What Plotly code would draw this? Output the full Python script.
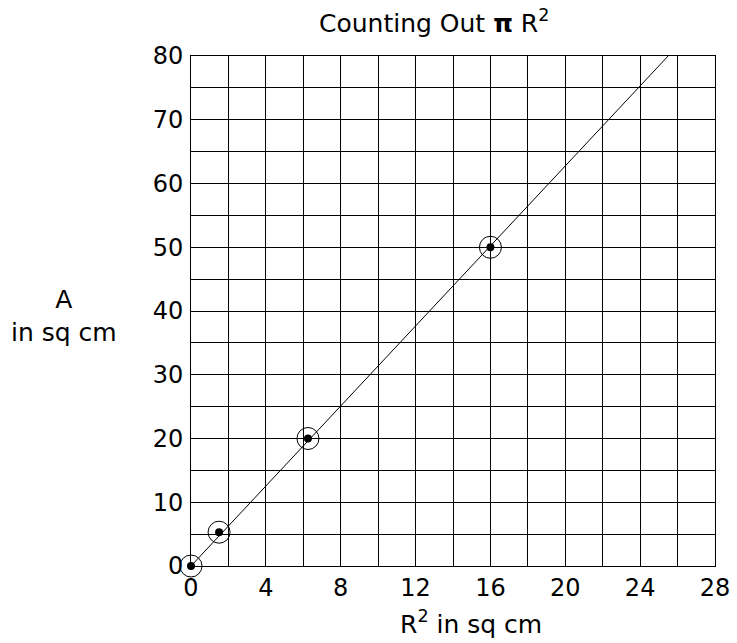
import numpy as np
import plotly.graph_objects as go

# Data
r_sq = [0, 1.5, 6.25, 16]      # R^2 in sq cm
area = [0, 5.3, 20, 50]        # A in sq cm
x_ticks = [0, 4, 8, 12, 16, 20, 24, 28]
y_ticks = [0, 10, 20, 30, 40, 50, 60, 70, 80]

# line through origin fitted to the points
rx = np.array(r_sq); ay = np.array(area)
slope = float((rx * ay).sum() / (rx * rx).sum())
line_x = [0, 80 / slope]
line_y = [0, 80]

FONT = "DejaVu Sans, Verdana, sans-serif"
FS = 24
FA = 25

fig = go.Figure()
fig.add_trace(go.Scatter(x=line_x, y=line_y, mode="lines",
                         line=dict(color="black", width=1), showlegend=False,
                         hoverinfo="skip", cliponaxis=False))
fig.add_trace(go.Scatter(x=r_sq, y=area, mode="markers",
                         marker=dict(symbol="circle-open", color="black", size=22,
                                     line=dict(width=1, color="black")),
                         showlegend=False, hoverinfo="skip", cliponaxis=False))
fig.add_trace(go.Scatter(x=r_sq, y=area, mode="markers",
                         marker=dict(color="black", size=8), showlegend=False,
                         cliponaxis=False))

fig.update_xaxes(range=[0, 28], tickvals=x_ticks, ticktext=[str(v) for v in x_ticks],
                 showgrid=True, gridcolor="black", gridwidth=1,
                 minor=dict(dtick=2, tick0=0, showgrid=True, gridcolor="black", gridwidth=1),
                 showline=True, linecolor="black", linewidth=1, mirror=True,
                 zeroline=False, ticks="", automargin=False, ticklabelstandoff=0,
                 tickfont=dict(size=FS, color="black", family=FONT))
fig.update_yaxes(range=[0, 80], tickvals=y_ticks, ticktext=[str(v) for v in y_ticks],
                 showgrid=True, gridcolor="black", gridwidth=1,
                 minor=dict(dtick=5, tick0=0, showgrid=True, gridcolor="black", gridwidth=1),
                 showline=True, linecolor="black", linewidth=1, mirror=True,
                 zeroline=False, ticks="", automargin=False, ticklabelstandoff=2,
                 tickfont=dict(size=FS, color="black", family=FONT))

fig.add_annotation(text="Counting Out <b>π</b> R<sup>2</sup>", xref="paper", yref="paper",
                   x=0.463, y=1.0, yshift=35, yanchor="middle", xanchor="center",
                   showarrow=False, font=dict(size=FA, color="black", family=FONT))
fig.add_annotation(text="R<sup>2</sup> in sq cm", xref="paper", yref="paper",
                   x=0.534, y=0, yshift=-56, yanchor="middle", xanchor="center",
                   showarrow=False, font=dict(size=FA, color="black", family=FONT))
fig.add_annotation(text="A<br>in sq cm", xref="paper", yref="paper",
                   x=0, xshift=-127, y=0.49, xanchor="center", yanchor="middle",
                   showarrow=False, align="center",
                   font=dict(size=FA, color="black", family=FONT))

fig.update_layout(width=737, height=643,
                  margin=dict(l=191, r=22, t=56, b=77, autoexpand=False),
                  paper_bgcolor="white", plot_bgcolor="white",
                  font=dict(family=FONT, color="black"))

fig.write_html("out.html", config={"displayModeBar": False},
               post_script="document.body.style.margin='0';")
